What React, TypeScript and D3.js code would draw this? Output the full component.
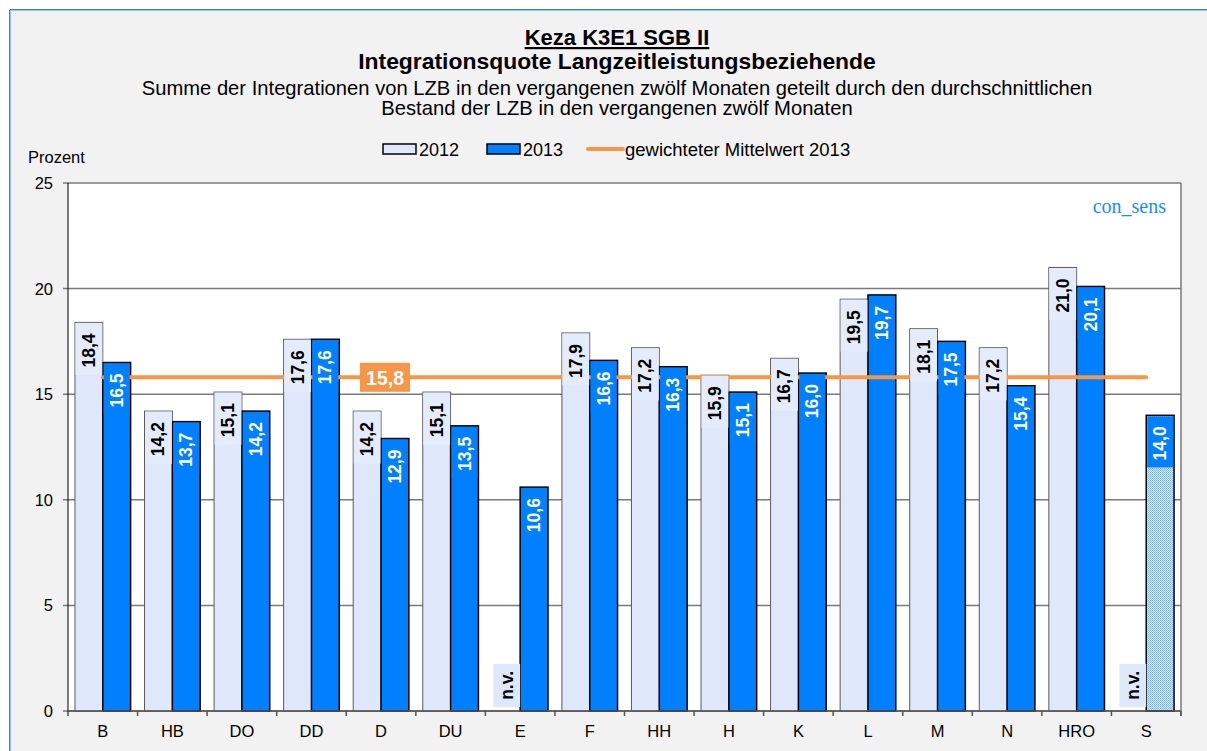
import React from 'react';
import * as d3 from 'd3';

const categories = ['B', 'HB', 'DO', 'DD', 'D', 'DU', 'E', 'F', 'HH', 'H', 'K', 'L', 'M', 'N', 'HRO', 'S'];
const values2012: (number | null)[] = [18.4, 14.2, 15.1, 17.6, 14.2, 15.1, null, 17.9, 17.2, 15.9, 16.7, 19.5, 18.1, 17.2, 21.0, null];
const values2013: (number | null)[] = [16.5, 13.7, 14.2, 17.6, 12.9, 13.5, 10.6, 16.6, 16.3, 15.1, 16.0, 19.7, 17.5, 15.4, 20.1, 14.0];
const hatchedCategories2013 = ['S'];
const seriesNames = ['2012', '2013'];
const meanValue = 15.8;
const meanLabelCategory = 'D';
const meanLegend = 'gewichteter Mittelwert 2013';
const yTicks = [0, 5, 10, 15, 20, 25];
const yDomain = [0, 25];
const titleLine1 = 'Keza K3E1 SGB II';
const titleLine2 = 'Integrationsquote Langzeitleistungsbeziehende';
const subtitleLines = [
  'Summe der Integrationen von LZB in den vergangenen zwölf Monaten geteilt durch den durchschnittlichen',
  'Bestand der LZB in den vergangenen zwölf Monaten',
];
const yAxisTitle = 'Prozent';
const naText = 'n.v.';
const watermark = 'con_sens';

const FONT = '"Liberation Sans", Arial, Helvetica, sans-serif';
const W = 1207;
const H = 751;
const M = { left: 68, right: 1181, top: 183, bottom: 711 };

const C2012 = '#dfe8fb';
const C2013 = '#0080ff';
const CMEAN = '#f79646';

const fmt = (v: number) => d3.format('.1f')(v).replace('.', ',');
const boldWidths: Record<string, number> = { ',': 0.278, '.': 0.278, n: 0.611, v: 0.556 };
const textLen = (s: string, size: number) =>
  s.split('').reduce((a, ch) => a + (boldWidths[ch] ?? 0.556), 0) * size;

export default function App() {
  const x = d3.scaleBand<string>().domain(categories).range([M.left, M.right]);
  const xs = d3.scaleBand<string>().domain(seriesNames).range([0, x.bandwidth()]).paddingOuter(0.25);
  const y = d3.scaleLinear().domain(yDomain).range([M.bottom, M.top]);
  const bw = xs.bandwidth();
  const labelSize = 17.5;
  const padTop = 11;
  const padBottom = 7;

  const cx = (c: string) => (x(c) as number) + x.bandwidth() / 2;

  const bars: React.ReactNode[] = [];
  const labels: React.ReactNode[] = [];

  categories.forEach((c, i) => {
    const v12 = values2012[i];
    const v13 = values2013[i];
    const x12 = (x(c) as number) + (xs('2012') as number);
    const x13 = (x(c) as number) + (xs('2013') as number);
    if (v12 != null) {
      bars.push(
        <rect key={'b12' + c} x={x12} y={y(v12)} width={bw} height={y(0) - y(v12)} fill={C2012} stroke="#5a5a5a" strokeWidth={1} />
      );
      const t = fmt(v12);
      const len = textLen(t, labelSize);
      labels.push(
        <g key={'l12' + c}>
          <rect x={x12 + 0.5} y={y(v12) + 0.5} width={bw - 1} height={padTop + len + padBottom} fill="#e4ecfc" />
          <text
            transform={`translate(${x12 + bw / 2},${y(v12) + padTop}) rotate(-90)`}
            textAnchor="end"
            dominantBaseline="central"
            fontFamily={FONT}
            fontWeight="bold"
            fontSize={labelSize}
            fill="#000"
          >
            {t}
          </text>
        </g>
      );
    } else {
      const len = textLen(naText, labelSize);
      const h = len + 13;
      const y0 = y(0) - 4 - h;
      labels.push(
        <g key={'na' + c}>
          <rect x={x12 + 1} y={y0} width={bw - 1} height={h} fill="#dde8fb" />
          <text
            transform={`translate(${x12 + bw / 2 + 1},${y0 + h / 2}) rotate(-90)`}
            textAnchor="middle"
            dominantBaseline="central"
            fontFamily={FONT}
            fontWeight="bold"
            fontSize={labelSize}
            fill="#000"
          >
            {naText}
          </text>
        </g>
      );
    }
    if (v13 != null) {
      const hatched = hatchedCategories2013.includes(c);
      bars.push(
        <rect key={'b13' + c} x={x13} y={y(v13)} width={bw} height={y(0) - y(v13)} fill={hatched ? 'url(#hatch)' : C2013} stroke="#000" strokeWidth={1.5} />
      );
      const t = fmt(v13);
      const len = textLen(t, labelSize);
      labels.push(
        <g key={'l13' + c}>
          <rect x={x13 + 1} y={y(v13) + 1} width={bw - 2} height={padTop + len + padBottom - 1} fill={C2013} />
          <text
            transform={`translate(${x13 + bw / 2},${y(v13) + padTop}) rotate(-90)`}
            textAnchor="end"
            dominantBaseline="central"
            fontFamily={FONT}
            fontWeight="bold"
            fontSize={labelSize}
            fill="#fff"
          >
            {t}
          </text>
        </g>
      );
    }
  });

  const meanY = y(meanValue);
  const meanX0 = cx(categories[0]);
  const meanX1 = cx(categories[categories.length - 1]);
  const meanLabelX = cx(meanLabelCategory) + 4;
  const titleX = 617;

  return (
    <div style={{ position: 'absolute', left: 0, top: 0 }}>
      <svg width={W} height={H} style={{ display: 'block' }}>
        <defs>
          <pattern id="hatch" width={2} height={2} patternUnits="userSpaceOnUse">
            <rect width={2} height={2} fill="#d4e8fc" />
            <rect width={1} height={1} fill="#6fb1f2" />
            <rect x={1} y={1} width={1} height={1} fill="#8fc2f5" />
          </pattern>
        </defs>
        <rect x={0} y={0} width={W} height={H} fill="#fff" />
        <rect x={10} y={10} width={W + 20} height={H + 20} fill="#f2f2f2" />
        <line x1={10} x2={W} y1={9.5} y2={9.5} stroke="#3b84c4" strokeWidth={1} />
        <line x1={10} x2={W} y1={10.5} y2={10.5} stroke="#9cc3e6" strokeWidth={1} />
        <line x1={9.5} x2={9.5} y1={10} y2={H} stroke="#3b84c4" strokeWidth={1} />
        <line x1={10.5} x2={10.5} y1={11} y2={H} stroke="#9cc3e6" strokeWidth={1} />

        {/* titles */}
        <text x={titleX} y={45} textAnchor="middle" fontFamily={FONT} fontWeight="bold" fontSize={22} textDecoration="underline" fill="#000">
          {titleLine1}
        </text>
        <text x={titleX} y={69} textAnchor="middle" fontFamily={FONT} fontWeight="bold" fontSize={22.9} fill="#000">
          {titleLine2}
        </text>
        {subtitleLines.map((s, i) => (
          <text key={s} x={titleX} y={95 + i * 20} textAnchor="middle" fontFamily={FONT} fontSize={20.2} fill="#000">
            {s}
          </text>
        ))}

        {/* legend */}
        <rect x={383} y={144} width={33} height={10} fill={C2012} stroke="#000" strokeWidth={1.5} />
        <text x={419} y={156} fontFamily={FONT} fontSize={18} fill="#000">{seriesNames[0]}</text>
        <rect x={487} y={144} width={33} height={10} fill={C2013} stroke="#000" strokeWidth={1.5} />
        <text x={523} y={156} fontFamily={FONT} fontSize={18} fill="#000">{seriesNames[1]}</text>
        <line x1={588} x2={623} y1={149} y2={149} stroke={CMEAN} strokeWidth={4} strokeLinecap="round" />
        <text x={625} y={156} fontFamily={FONT} fontSize={18.5} fill="#000">{meanLegend}</text>

        <text x={28} y={163} fontFamily={FONT} fontSize={16.5} fill="#000">{yAxisTitle}</text>

        {/* plot area */}
        <rect x={M.left} y={M.top} width={M.right - M.left} height={M.bottom - M.top} fill="#fff" />
        {yTicks.map((t) => (
          <g key={'g' + t}>
            <line x1={M.left - 5} x2={M.right} y1={y(t)} y2={y(t)} stroke="#7a7a7a" strokeWidth={1.5} />
            <text x={53} y={y(t)} textAnchor="end" dominantBaseline="central" fontFamily={FONT} fontSize={16.5} fill="#000">
              {t}
            </text>
          </g>
        ))}
        <line x1={M.right} x2={M.right} y1={M.top} y2={M.bottom + 5} stroke="#7a7a7a" strokeWidth={1.5} />

        {bars}

        <line x1={meanX0} x2={meanX1} y1={meanY} y2={meanY} stroke={CMEAN} strokeWidth={4} strokeLinecap="round" />

        {labels}

        <rect x={meanLabelX - 25} y={meanY - 14.5} width={50} height={29} fill={CMEAN} />
        <text x={meanLabelX} y={meanY + 1} textAnchor="middle" dominantBaseline="central" fontFamily={FONT} fontWeight="bold" fontSize={19.5} fill="#fff">
          {fmt(meanValue)}
        </text>

        {/* axes */}
        <line x1={M.left} x2={M.left} y1={M.top} y2={M.bottom + 5} stroke="#000" strokeWidth={1} />
        <line x1={M.left} x2={M.right} y1={M.bottom} y2={M.bottom} stroke="#555" strokeWidth={1.5} />
        {categories.map((c) => (
          <line key={'t' + c} x1={(x(c) as number) + x.bandwidth()} x2={(x(c) as number) + x.bandwidth()} y1={M.bottom} y2={M.bottom + 5} stroke="#555" strokeWidth={1.5} />
        ))}
        {categories.map((c) => (
          <text key={'x' + c} x={cx(c)} y={737} textAnchor="middle" fontFamily={FONT} fontSize={16.5} fill="#000">
            {c}
          </text>
        ))}

        <text x={1166} y={213} textAnchor="end" fontFamily='"Liberation Serif", "Times New Roman", serif' fontSize={20} fill="#1a8cff">
          {watermark}
        </text>
      </svg>
    </div>
  );
}
